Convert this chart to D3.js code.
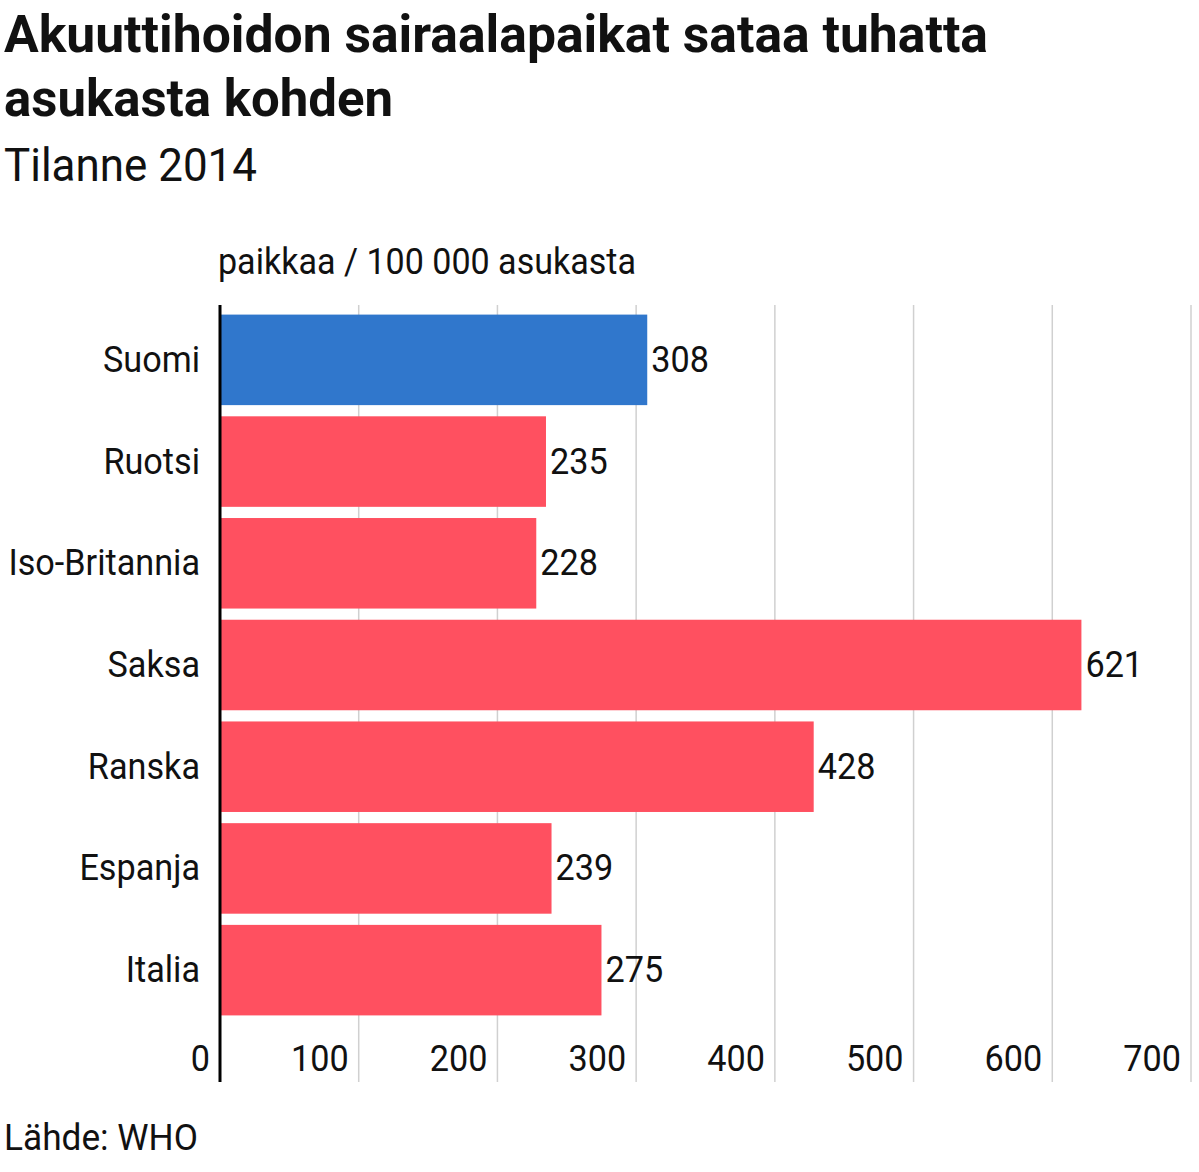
<!DOCTYPE html><html><head><meta charset="utf-8"><script src="https://cdn.jsdelivr.net/npm/d3@7"></script>
<style>body{margin:0;background:#fff}text{font-family:Roboto,sans-serif;fill:#111}</style></head><body>
<svg width="1199" height="1172"></svg>
<script>
const categories=["Suomi","Ruotsi","Iso-Britannia","Saksa","Ranska","Espanja","Italia"];
const values=[308,235,228,621,428,239,275];
const colors=["#3077cc","#ff5060","#ff5060","#ff5060","#ff5060","#ff5060","#ff5060"];
const ticks=[0,100,200,300,400,500,600,700];
const svg=d3.select("svg");
const x=d3.scaleLinear().domain([0,700]).range([220,1191]);
const y=d3.scaleBand().domain(categories).range([309,1021]).paddingInner(0.11).paddingOuter(0.055);
const SQ=0.95;
function cond(sel,w0){sel.each(function(){const w=w0||this.getComputedTextLength()*SQ;d3.select(this).attr("textLength",w).attr("lengthAdjust","spacingAndGlyphs");});return sel;}
svg.selectAll(".g").data(ticks.slice(1)).enter().append("line").attr("x1",d=>x(d)).attr("x2",d=>x(d)).attr("y1",305).attr("y2",1082).attr("stroke","#d0d0d0").attr("stroke-width",1.5);
svg.selectAll(".b").data(values).enter().append("rect").attr("x",x(0)).attr("y",(d,i)=>y(categories[i])).attr("width",d=>x(d)-x(0)).attr("height",y.bandwidth()).attr("fill",(d,i)=>colors[i]);
svg.append("line").attr("x1",220).attr("x2",220).attr("y1",305).attr("y2",1082).attr("stroke","#000").attr("stroke-width",3);
cond(svg.selectAll(".v").data(values).enter().append("text").attr("x",d=>x(d)+4).attr("y",(d,i)=>y(categories[i])+y.bandwidth()/2+12).attr("font-size",36).text(d=>d));
cond(svg.selectAll(".c").data(categories).enter().append("text").attr("x",200).attr("y",d=>y(d)+y.bandwidth()/2+12).attr("text-anchor","end").attr("font-size",36).text(d=>d));
cond(svg.selectAll(".t").data(ticks).enter().append("text").attr("x",d=>d===0?210:x(d)-10).attr("y",1071).attr("text-anchor","end").attr("font-size",36).text(d=>d));
cond(svg.append("text").attr("x",218).attr("y",274).attr("font-size",36).text("paikkaa / 100 000 asukasta"),418);
cond(svg.append("text").attr("x",4).attr("y",52).attr("font-size",52).attr("font-weight","bold").text("Akuuttihoidon sairaalapaikat sataa tuhatta"),984);
cond(svg.append("text").attr("x",4).attr("y",116).attr("font-size",52).attr("font-weight","bold").text("asukasta kohden"),389);
cond(svg.append("text").attr("x",4).attr("y",181).attr("font-size",46).text("Tilanne 2014"),253);
cond(svg.append("text").attr("x",4).attr("y",1150).attr("font-size",36).text("Lähde: WHO"),194);
</script></body></html>
